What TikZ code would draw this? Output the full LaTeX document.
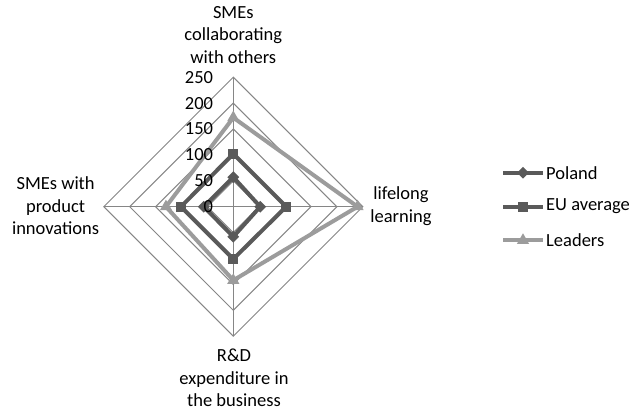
\documentclass[tikz,border=0pt]{standalone}
\usepackage{fontspec}
\setmainfont{Carlito}
\usetikzlibrary{shapes.geometric,calc}

\definecolor{gridgray}{HTML}{868686}
\definecolor{polandcol}{HTML}{595959}
\definecolor{eucol}{HTML}{5A5A5A}
\definecolor{leadcol}{HTML}{9C9C9C}
\newcommand\chartfont{\fontsize{18.5}{22.5}\selectfont}

\tikzset{
  gridline/.style={draw=gridgray, line width=1pt},
  series/.style={draw=#1, line width=4pt, line join=miter, miter limit=10},
  dmark/.style={diamond, fill=#1, inner sep=0pt, minimum width=12pt, minimum height=12pt},
  smark/.style={rectangle, fill=#1, inner sep=0pt, minimum size=10pt},
  tmark/.style={regular polygon, regular polygon sides=3, fill=#1, inner sep=0pt, minimum size=14pt},
  axislabel/.style={align=center, font=\chartfont, inner sep=0pt, text=black},
  ticklabel/.style={anchor=east, font=\chartfont, inner sep=0pt, text=black},
  legendtext/.style={anchor=west, font=\chartfont, inner sep=0pt, text=black},
}

\begin{document}
\begin{tikzpicture}[x=1pt, y=-1pt]
  \useasboundingbox (0,0) rectangle (633,412);

  % radar centre, 0.518 units of length per point of value
  \coordinate (C) at (233.3,206.7);
  \def\s{0.518}

  % grid rings at 50, 100, ..., 250
  \foreach \k in {1,...,5} {
    \pgfmathsetmacro{\r}{\k*50*\s}
    \draw[gridline] ($(C)+(0,-\r)$) -- ($(C)+(\r,0)$) -- ($(C)+(0,\r)$) -- ($(C)+(-\r,0)$) -- cycle;
  }
  % spokes
  \pgfmathsetmacro{\R}{250*\s}
  \coordinate (top) at ($(C)+(0,-\R)$);
  \coordinate (right) at ($(C)+(\R,0)$);
  \coordinate (bottom) at ($(C)+(0,\R)$);
  \coordinate (left) at ($(C)+(-\R,0)$);
  \draw[gridline] (C) -- (top);
  \draw[gridline] (C) -- (right);
  \draw[gridline] (C) -- (bottom);
  \draw[gridline] (C) -- (left);

  % series points: top, right, bottom, left
  \coordinate (lt) at ($(C)+(0,-172*\s)$);
  \coordinate (lr) at ($(C)+(240*\s,0)$);
  \coordinate (lb) at ($(C)+(0,142*\s)$);
  \coordinate (ll) at ($(C)+(-130*\s,0)$);

  \coordinate (et) at ($(C)+(0,-102*\s)$);
  \coordinate (er) at ($(C)+(102*\s,0)$);
  \coordinate (eb) at ($(C)+(0,101*\s)$);
  \coordinate (el) at ($(C)+(-101*\s,0)$);

  \coordinate (pt) at ($(C)+(0,-57*\s)$);
  \coordinate (pr) at ($(C)+(52*\s,0)$);
  \coordinate (pb) at ($(C)+(0,58*\s)$);
  \coordinate (pl) at ($(C)+(-57*\s,0)$);

  \draw[series=leadcol] (lt) -- (lr) -- (lb) -- (ll) -- cycle;
  \draw[series=eucol] (et) -- (er) -- (eb) -- (el) -- cycle;
  \draw[series=polandcol] (pt) -- (pr) -- (pb) -- (pl) -- cycle;

  \foreach \p in {lt,lr,lb,ll} \node[tmark=leadcol] at (\p) {};
  \foreach \p in {et,er,eb,el} \node[smark=eucol] at (\p) {};
  \foreach \p in {pt,pr,pb,pl} \node[dmark=polandcol] at (\p) {};

  % value labels on the upper spoke
  \foreach \v in {0,50,...,250} {
    \node[ticklabel] at ($(C)+(-20,-\v*\s)$) {\v};
  }

  % axis titles
  \node[axislabel] (ttop) at (233.3,35) {SMEs\\collaborating\\with others};
  \node[axislabel] (tright) at (401,206) {lifelong\\learning};
  \node[axislabel] (tbottom) at (234,378) {R\&D\\expenditure in\\the business};
  \node[axislabel] (tleft) at (55.6,206) {SMEs with\\product\\innovations};

  % legend
  \coordinate (k1a) at (503,172.7); \coordinate (k1b) at (543,172.7);
  \coordinate (k2a) at (503,206.5); \coordinate (k2b) at (543,206.5);
  \coordinate (k3a) at (503,240.3); \coordinate (k3b) at (543,240.3);
  \draw[series=polandcol] (k1a) -- (k1b);
  \draw[series=eucol] (k2a) -- (k2b);
  \draw[series=leadcol] (k3a) -- (k3b);
  \node[dmark=polandcol] (m1) at ($(k1a)!0.5!(k1b)$) {};
  \node[smark=eucol] (m2) at ($(k2a)!0.5!(k2b)$) {};
  \node[tmark=leadcol] (m3) at ($(k3a)!0.5!(k3b)$) {};
  \node[legendtext] (n1) at (546,172.7) {Poland};
  \node[legendtext] (n2) at (546,206.5) {EU average};
  \node[legendtext] (n3) at (546,240.3) {Leaders};
\end{tikzpicture}
\end{document}
